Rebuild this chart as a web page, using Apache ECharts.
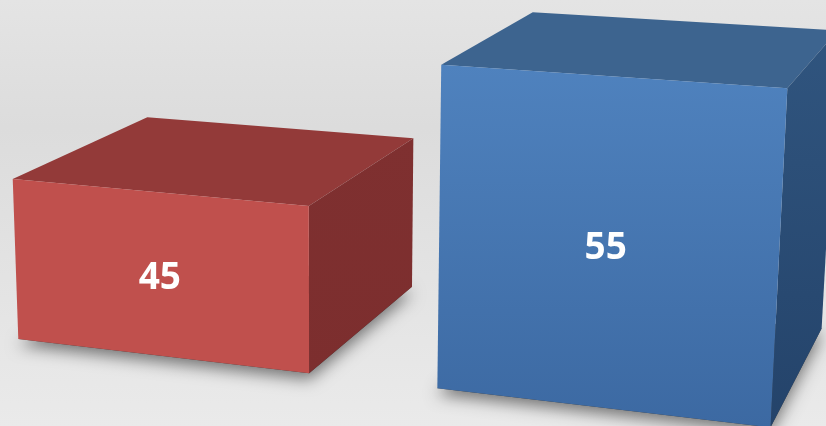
<!DOCTYPE html>
<html>
<head>
<meta charset="utf-8">
<script src="https://cdn.jsdelivr.net/npm/echarts@6/dist/echarts.min.js"></script>
<style>
  html, body { margin: 0; padding: 0; }
  #chart { width: 826px; height: 426px; }
</style>
</head>
<body>
<div id="chart"></div>
<script>
// ---- data ----
const categories = ['Series A', 'Series B'];
const values = [45, 55];
const axisMin = 33.5;
const axisMax = 60;

// ---- styles ----
const faceColors = [
  { front: '#c0504d', frontBottom: '#c0504d', top: '#933a39', right: '#7f3030', rightBottom: '#7c2e2e' },
  { front: '#4f82be', frontBottom: '#3c69a2', top: '#3d648f', right: '#30557f', rightBottom: '#24436a' }
];

// ---- camera (perspective) parameters ----
const VX = [-6100, -380];   // vanishing point of horizontal edges
const VY = [330, 9300];     // vanishing point of vertical edges
const VZ = [1176, -356];    // vanishing point of depth edges
const CAM_SHIFT = [-42, 0]; // camera pan
const K_BAND = 0.0641;      // perspective weight of one category band
const K_UNIT = 0.001525;    // perspective weight of one value unit
const K_DEPTH = 0.1285;     // depth of the boxes
const BAR_RATIO = 0.708;    // bar width / band width

function makeProjector(origin) {
  return function (kx, ky, kz) {
    const w = 1 + kx + ky + kz;
    return [
      (origin[0] + kx * VX[0] + ky * VY[0] + kz * VZ[0]) / w,
      (origin[1] + kx * VX[1] + ky * VY[1] + kz * VZ[1]) / w
    ];
  };
}

function renderItem(params, api) {
  const idx = api.value(0);
  const val = api.value(1);
  const band = api.size([1, 0])[0];
  const pxPerUnit = api.size([0, 1])[1];
  const barW = band * BAR_RATIO;

  // flat origin: left edge of the first bar at the axis minimum
  const base0 = api.coord([0, axisMin]);
  const flat0 = [base0[0] - barW / 2, base0[1]];
  const proj = makeProjector([flat0[0] + CAM_SHIFT[0], flat0[1] + CAM_SHIFT[1]]);

  const base = api.coord([idx, axisMin]);
  const top = api.coord([idx, val]);
  const kPerPx = K_BAND / band;
  const xL = -(base[0] - barW / 2 - flat0[0]) * kPerPx;
  const xR = -(base[0] + barW / 2 - flat0[0]) * kPerPx;
  const yB = 0;
  const yT = -K_UNIT * (base[1] - top[1]) / pxPerUnit;
  const zF = 0, zB = K_DEPTH;

  const fbl = proj(xL, yB, zF), fbr = proj(xR, yB, zF);
  const ftl = proj(xL, yT, zF), ftr = proj(xR, yT, zF);
  const bbl = proj(xL, yB, zB), bbr = proj(xR, yB, zB);
  const btl = proj(xL, yT, zB), btr = proj(xR, yT, zB);
  const c = faceColors[idx % faceColors.length];

  const center = proj((xL + xR) / 2, yT / 2, zF);

  return {
    type: 'group',
    children: [
      { // floor shadow
        type: 'polygon',
        shape: { points: [fbl, fbr, bbr, bbl] },
        style: {
          fill: 'rgba(0,0,0,0.6)',
          shadowBlur: 16,
          shadowColor: 'rgba(0,0,0,0.85)',
          shadowOffsetY: 6,
          shadowOffsetX: 0
        }
      },
      { // top face
        type: 'polygon',
        shape: { points: [ftl, btl, btr, ftr] },
        style: { fill: c.top }
      },
      { // right face
        type: 'polygon',
        shape: { points: [ftr, btr, bbr, fbr] },
        style: {
          fill: new echarts.graphic.LinearGradient(0, 0, 0, 1, [
            { offset: 0, color: c.right }, { offset: 1, color: c.rightBottom }
          ])
        }
      },
      { // front face
        type: 'polygon',
        shape: { points: [ftl, ftr, fbr, fbl] },
        style: {
          fill: new echarts.graphic.LinearGradient(0, 0, 0, 1, [
            { offset: 0, color: c.front }, { offset: 1, color: c.frontBottom }
          ])
        }
      },
      { // value label
        type: 'text',
        x: center[0] + 1,
        y: center[1] + 4,
        style: {
          text: String(val),
          fill: '#ffffff',
          font: 'bold 37px "Open Sans", sans-serif',
          align: 'center',
          verticalAlign: 'middle'
        }
      }
    ]
  };
}

const chart = echarts.init(document.getElementById('chart'), null, { renderer: 'canvas' });
chart.setOption({
  animation: false,
  backgroundColor: {
    type: 'linear', x: 0, y: 0, x2: 0, y2: 1,
    colorStops: [
      { offset: 0, color: '#e4e4e4' },
      { offset: 0.3, color: '#dcdcdc' },
      { offset: 0.7, color: '#e4e4e4' },
      { offset: 1, color: '#eaeaea' }
    ]
  },
  grid: { left: 0, right: 0, top: 0, bottom: 87 },
  xAxis: { type: 'category', data: categories, show: false, boundaryGap: true },
  yAxis: { type: 'value', min: axisMin, max: axisMax, show: false },
  series: [{
    type: 'custom',
    renderItem: renderItem,
    data: values.map((v, i) => [i, v]),
    clip: false
  }]
});
</script>
</body>
</html>
